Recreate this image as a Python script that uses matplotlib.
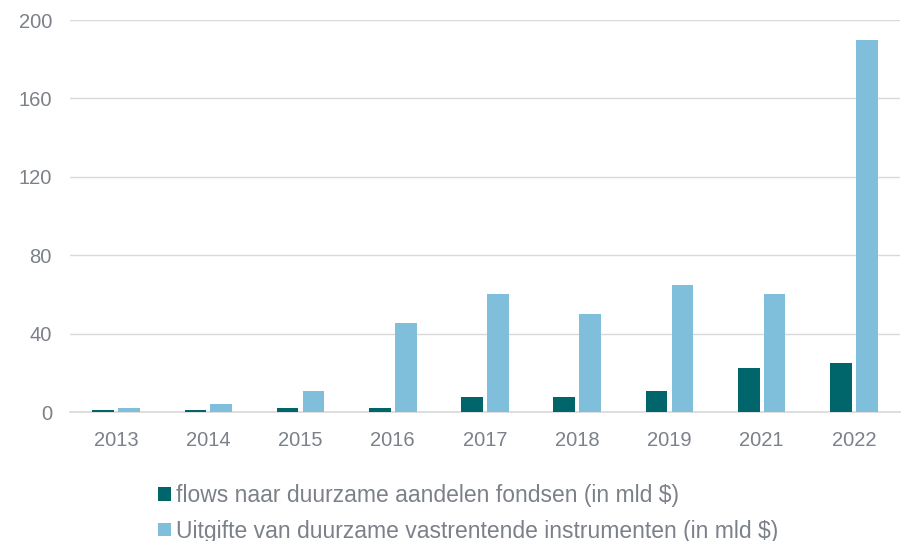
import numpy as np
import matplotlib
matplotlib.use("Agg")
import matplotlib.pyplot as plt


years = ["2013", "2014", "2015", "2016", "2017", "2018", "2019", "2021", "2022"]
equity_flows = [1, 1, 2, 2, 7.5, 7.5, 10.5, 22.5, 25]
bond_issuance = [2, 4, 10.5, 45.5, 60, 50, 65, 60, 190]

label_equity = "flows naar duurzame aandelen fondsen (in mld $)"
label_bond = "Uitgifte van duurzame vastrentende instrumenten (in mld $)"

DARK = "#00666b"
LIGHT = "#7fbfdb"
TEXT = "#7b8089"

plt.rcParams["font.family"] = ["Liberation Sans", "DejaVu Sans"]

fig = plt.figure(figsize=(9.02, 5.41), dpi=100)
ax = fig.add_axes([70 / 902, 1 - 412 / 541, 830 / 902, 392 / 541])

x = np.arange(len(years))
w = 0.235
ax.bar(x - 0.14, equity_flows, w, color=DARK, label=label_equity, zorder=3)
ax.bar(x + 0.14, bond_issuance, w, color=LIGHT, label=label_bond, zorder=3)

ax.set_xlim(-0.5, len(years) - 0.5)
ax.set_ylim(0, 200)
ax.set_yticks([0, 40, 80, 120, 160, 200])
ax.set_xticks(x)
ax.set_xticklabels(years)
ax.tick_params(axis="both", length=0, labelsize=14.5, colors=TEXT)
ax.tick_params(axis="y", pad=13)
ax.tick_params(axis="x", pad=14)

ax.grid(axis="y", color="#d9d9d9", linewidth=1, zorder=0)
for s in ["top", "right", "left"]:
    ax.spines[s].set_visible(False)
ax.spines["bottom"].set_color("#d9d9d9")
ax.spines["bottom"].set_linewidth(1.2)

leg = fig.legend(loc="upper left", bbox_to_anchor=(142 / 902, 1 - 468 / 541),
                 frameon=False, fontsize=16.5, handlelength=0.55, handleheight=0.55,
                 handletextpad=0.25, labelspacing=0.55, borderpad=0.2)
for t in leg.get_texts():
    t.set_color(TEXT)

fig.savefig("out.png", dpi=100)
